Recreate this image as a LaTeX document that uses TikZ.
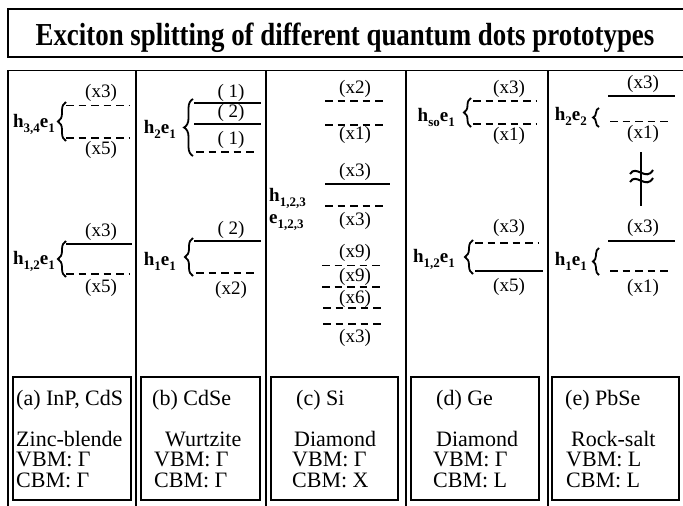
\documentclass[tikz,border=0pt]{standalone}
\usepackage{fontspec}
\usepackage{graphicx}
\setmainfont{Liberation Serif}
\usetikzlibrary{decorations.pathreplacing}
\newcommand{\lsub}[1]{\raisebox{-0.3em}{\fontsize{13}{13}\selectfont #1}}
\tikzset{
  lvl/.style={line width=1.5pt},
  dlvl/.style={line width=1.5pt, dash pattern=on 7.5pt off 5pt},
  mult/.style={font=\fontsize{19}{19}\selectfont, inner sep=0pt},
  hlab/.style={font=\fontsize{19}{19}\selectfont\bfseries, inner sep=0pt, anchor=base east},
  brc/.style={decorate, decoration={brace, amplitude=#1}, line width=1.8pt},
  brc/.default=7pt,
  sep/.style={line width=2.2pt},
  infobox/.style={draw, line width=2.4pt},
  boxhead/.style={font=\fontsize{22}{22}\selectfont, anchor=base west, inner sep=0pt},
  boxtxt/.style={font=\fontsize{22}{20.5}\selectfont, anchor=base west, inner sep=0pt, align=left},
  tilde/.style={line width=2pt},
}
\begin{document}
\begin{tikzpicture}[x=1pt,y=-1pt]
\useasboundingbox (0,0) rectangle (683,506);
% title
\draw[line width=1.8pt] (8,9) rectangle (700,57);
\node[anchor=base, inner sep=0pt] (title) at (345,45) {\scalebox{0.84}[1]{\fontsize{32}{32}\selectfont\bfseries Exciton splitting of different quantum dots prototypes}};
% frame
\draw[line width=1pt] (8,70) -- (700,70);
\draw[sep] (8,70) -- (8,510);
\foreach \x in {136,266,406,548} \draw[sep] (\x,70) -- (\x,510);

% column a
\node[mult] (a3) at (101,93) {(x3)};
\draw[dlvl] (66,105.5) -- (129,105.5);
\draw[dlvl] (66,138) -- (129,138);
\node[mult] (a5) at (101,150) {(x5)};
\draw[brc=8pt] (66,141) -- (66,102);
\node[hlab] (ha) at (55,127) {h\lsub{3,4}e\lsub{1}};
\node[mult] (a3l) at (101,232) {(x3)};
\draw[lvl] (66,244) -- (132,244);
\draw[dlvl] (66,274) -- (129,274);
\node[mult] (a5l) at (101,288) {(x5)};
\draw[brc=8pt] (66,277) -- (66,241);
\node[hlab] (hal) at (55,264) {h\lsub{1,2}e\lsub{1}};

% column b
\node[mult] (b1) at (231,92.5) {( 1)};
\draw[lvl] (194,103) -- (261,103);
\node[mult] (b2) at (231,113) {( 2)};
\draw[lvl] (194,124) -- (261,124);
\node[mult] (b3) at (231,140) {( 1)};
\draw[dlvl] (196,152) -- (258,152);
\draw[brc=9pt] (193,156) -- (193,99);
\node[hlab] (hb) at (176,133) {h\lsub{2}e\lsub{1}};
\node[mult] (b2l) at (231,230) {( 2)};
\draw[lvl] (194,241) -- (261,241);
\draw[dlvl] (196,273) -- (258,273);
\node[mult] (bx2) at (231,290) {(x2)};
\draw[brc=8pt] (193,276) -- (193,238);
\node[hlab] (hbl) at (176,265) {h\lsub{1}e\lsub{1}};

% column c
\node[mult] (c1) at (355,89) {(x2)};
\draw[dlvl] (325,101) -- (386,101);
\draw[dlvl] (325,125) -- (386,125);
\node[mult] (c2) at (355,135) {(x1)};
\node[mult] (c3) at (355,172) {(x3)};
\draw[lvl] (325,184) -- (390,184);
\draw[dlvl] (325,206) -- (386,206);
\node[mult] (c4) at (355,221) {(x3)};
\node[hlab, anchor=base west] (hc) at (269,201) {h\lsub{1,2,3}};
\node[hlab, anchor=base west] (ec) at (269,223) {e\lsub{1,2,3}};
\node[mult] (c5) at (355,253) {(x9)};
\draw[dlvl] (322,265.5) -- (384,265.5);
\node[mult] (c6) at (355,277) {(x9)};
\draw[dlvl] (322,287) -- (384,287);
\node[mult] (c7) at (355,298.5) {(x6)};
\draw[dlvl] (323,308) -- (385,308);
\draw[dlvl] (323,324) -- (385,324);
\node[mult] (c8) at (355,337.5) {(x3)};

% column d
\node[mult] (d3) at (509,89) {(x3)};
\draw[dlvl] (473,101) -- (537,101);
\draw[dlvl] (473,124) -- (537,124);
\node[mult] (d1) at (509,136) {(x1)};
\draw[brc=7pt] (471,127) -- (471,98);
\node[hlab] (hd) at (455,121) {h\lsub{so}e\lsub{1}};
\node[mult] (d3l) at (509,228) {(x3)};
\draw[dlvl] (475,243) -- (538,243);
\draw[lvl] (475,271) -- (543,271);
\node[mult] (d5l) at (509,287) {(x5)};
\draw[brc=8pt] (473,274) -- (473,240);
\node[hlab] (hdl) at (455,262) {h\lsub{1,2}e\lsub{1}};

% column e
\node[mult] (e3) at (643,84) {(x3)};
\draw[lvl] (608,96) -- (675,96);
\draw[dlvl] (610,121.5) -- (672,121.5);
\node[mult] (e1) at (643,134) {(x1)};
\draw[brc=6pt] (599,127) -- (599,108);
\node[hlab] (he) at (587,120) {h\lsub{2}e\lsub{2}};
\draw[line width=2pt] (641,152) -- (641,206);
\draw[tilde] (630,174) .. controls (636,164) and (646,182) .. (653,170);
\draw[tilde] (630,182) .. controls (636,172) and (646,190) .. (653,178);
\node[mult] (e3l) at (643,228) {(x3)};
\draw[lvl] (608,241) -- (675,241);
\draw[dlvl] (610,271) -- (672,271);
\node[mult] (e1l) at (643,288) {(x1)};
\draw[brc=6pt] (599,275) -- (599,248);
\node[hlab] (hel) at (587,265) {h\lsub{1}e\lsub{1}};

% boxes
\draw[infobox] (13,377) rectangle (131,500);
\draw[infobox] (141,377) rectangle (260,500);
\draw[infobox] (271,377) rectangle (398,500);
\draw[infobox] (411,377) rectangle (539,500);
\draw[infobox] (552,377) rectangle (679,500);

\node[boxhead] (ta1) at (16,405) {(a) InP, CdS};
\node[boxtxt] (ta2) at (16,487) {Zinc-blende\\VBM: Γ\\CBM: Γ};

\node[boxhead] (tb1) at (152,405) {(b) CdSe};
\node[boxtxt] (tb2) at (154,487) {\hspace*{11pt}Wurtzite\\VBM: Γ\\CBM: Γ};

\node[boxhead] (tc1) at (296,405) {(c) Si};
\node[boxtxt] (tc2) at (292,487) {\hspace*{2pt}Diamond\\VBM: Γ\\CBM: X};

\node[boxhead] (td1) at (436,405) {(d) Ge};
\node[boxtxt] (td2) at (433,487) {\hspace*{3pt}Diamond\\VBM: Γ\\CBM: L};

\node[boxhead] (te1) at (565,405) {(e) PbSe};
\node[boxtxt] (te2) at (566,487) {\hspace*{5pt}Rock-salt\\VBM: L\\CBM: L};
\end{tikzpicture}
\end{document}
